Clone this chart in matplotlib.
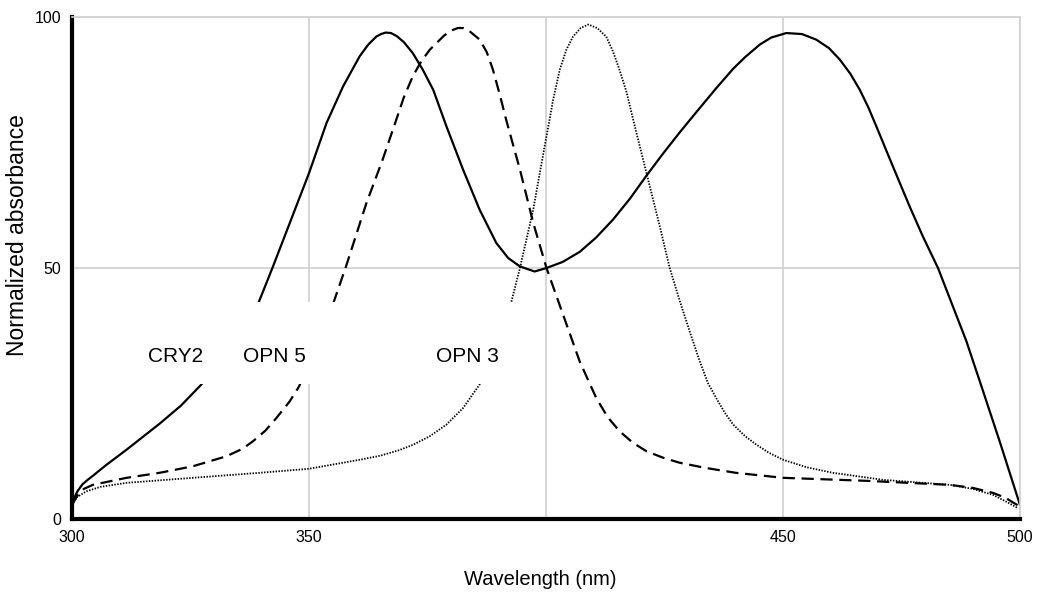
import numpy as np
import matplotlib
matplotlib.use("Agg")
import matplotlib.pyplot as plt
from matplotlib import font_manager
from matplotlib.patches import Rectangle

# -------------------------------------------------
# Font
# -------------------------------------------------

names = {f.name for f in font_manager.fontManager.ttflist}
if "Liberation Sans Narrow" in names:
    plt.rcParams['font.family'] = ['Liberation Sans Narrow', 'DejaVu Sans']
else:
    plt.rcParams['font.family'] = ['Liberation Sans', 'DejaVu Sans']

# -------------------------------------------------
# Daten
# -------------------------------------------------

cry2_x = [300, 300.5, 301.2, 302.2, 303.3, 304.4, 307, 311.5, 318.5, 323, 327.3,
          339.4, 342.4, 350, 353.7, 357.2, 360.7, 362.5, 364.2, 365.2, 366.2,
          367.3, 368.5, 370, 371.9, 374, 376.2, 379, 382.5, 386, 389.5, 392,
          394.5, 397.6, 400.1, 403.5, 407.1, 410.5, 414.1, 417.7, 421.2, 424.7,
          428.2, 431.5, 435.9, 439.5, 442, 445.1, 447.5, 450.7, 454, 457, 459.7,
          462, 464.2, 466.2, 468, 469.7, 473.2, 476.7, 479.5, 482.7, 485.7,
          488.7, 492.2, 495.7, 500]
cry2_y = [2.8, 4.3, 5.6, 6.9, 7.8, 8.6, 10.6, 13.8, 19.0, 22.6, 26.8,
          43.2, 50.3, 68.9, 78.9, 86.2, 92.2, 94.5, 96.1, 96.6, 96.9,
          96.8, 96.2, 95.0, 92.8, 89.5, 85.5, 78.2, 69.6, 61.6, 55.0, 52.0,
          50.3, 49.3, 50.0, 51.2, 53.2, 56.0, 59.6, 63.8, 68.4, 72.8,
          77.0, 80.8, 85.8, 89.7, 92.0, 94.5, 95.9, 96.8, 96.6, 95.5, 93.8,
          91.5, 88.7, 85.5, 82.0, 78.2, 70.2, 62.3, 56.3, 50.0, 42.7,
          35.4, 25.5, 15.5, 2.8]

opn5_x = [300, 301, 302.5, 304.4, 311.5, 318.5, 325.5, 332.6, 336, 338.2,
          340.8, 343.1, 345.9, 347.9, 355.2, 357.8, 362.1, 365.5, 368.4, 370,
          371.9, 373.7, 375.5, 378.5, 380, 381.4, 382.5, 383.7, 386, 387.5,
          388.8, 390.2, 391.6, 394.5, 397.3, 400.1, 403.6, 407.1, 410.6, 413,
          415.5, 418.3, 421.2, 424.7, 428.2, 433.5, 440, 450, 467.6, 485.2,
          490, 494.3, 497, 498.5, 500]
opn5_y = [2.8, 4.5, 6.0, 6.8, 8.2, 9.2, 10.5, 12.5, 14.0, 15.5,
          17.6, 20.1, 23.4, 26.4, 43.2, 50.3, 62.9, 71.5, 79.5, 84.0,
          88.2, 91.2, 93.5, 96.3, 97.3, 97.8, 97.8, 97.3, 95.5, 93.0,
          89.5, 84.7, 79.5, 69.6, 59.0, 50.0, 40.7, 31.4, 24.1, 20.3,
          17.5, 15.2, 13.5, 12.2, 11.2, 10.2, 9.2, 8.2, 7.6, 6.8,
          6.2, 5.2, 4.2, 3.3, 2.5]

opn3_x = [300, 301, 303, 306, 311.5, 325.5, 339.6, 350, 360.7, 365, 369,
          372, 375.5, 379, 382.5, 386, 392.7, 394.5, 397.3, 398.7, 400.1,
          401.5, 402.9, 404.3, 405.7, 407.3, 408.9, 410.8, 412.7, 414.1,
          415.5, 417, 418.4, 421.2, 424, 426.1, 428.2, 430.3, 432.4, 434.2,
          435.9, 437.7, 439.5, 442, 444.4, 447, 450, 455, 460.5, 471.1,
          485.2, 490, 494.3, 497, 499.5]
opn3_y = [2.8, 4.3, 5.5, 6.4, 7.2, 8.2, 9.2, 10.0, 11.8, 12.6, 13.7,
          14.8, 16.5, 18.8, 22.1, 26.8, 43.3, 50.0, 61.6, 69.0, 76.2,
          83.5, 89.5, 93.5, 96.1, 97.8, 98.5, 97.8, 96.1, 93.2,
          89.5, 85.0, 79.5, 68.9, 58.3, 50.0, 43.5, 37.4, 31.5, 27.0,
          24.1, 21.2, 18.8, 16.5, 14.8, 13.2, 11.8, 10.3, 9.2, 7.8,
          6.8, 6.0, 4.8, 3.5, 2.2]

labels = ["CRY2", "OPN 5", "OPN 3"]
label_x = [321.9, 342.8, 383.4]
label_y = [32.3, 32.3, 32.3]

x_ticks = [300, 350, 400, 450, 500]
x_ticklabels = ["300", "350", "", "450", "500"]
y_ticks = [0, 50, 100]

# -------------------------------------------------
# Plot
# -------------------------------------------------

fig = plt.figure(figsize=(10.47, 5.94), dpi=100)
ax = fig.add_axes([0.0688, 0.1263, 0.9054, 0.8451])

ax.plot(cry2_x, cry2_y, color='black', lw=1.6, solid_joinstyle='round')
ax.plot(opn5_x, opn5_y, color='black', lw=1.6, linestyle=(0, (5.5, 3)))
ax.plot(opn3_x, opn3_y, color='black', lw=1.3, linestyle=(0, (0.8, 0.8)))

# weisser Kasten hinter den Beschriftungen
ax.add_patch(Rectangle((314, 26.8), 80.0, 16.5, facecolor='white',
                       edgecolor='none', zorder=3))
for lab, lx, ly in zip(labels, label_x, label_y):
    ax.text(lx, ly, lab, ha='center', va='center', fontsize=15, zorder=4)

ax.set_xlim(300, 500)
ax.set_ylim(0, 100)
ax.set_xticks(x_ticks)
ax.set_xticklabels(x_ticklabels)
ax.set_yticks(y_ticks)
ax.tick_params(length=0, labelsize=11.5, pad=8)
ax.grid(True, color='#d0d0d0', lw=1.2)
ax.set_axisbelow(True)

for side in ['top', 'right']:
    ax.spines[side].set_color('#d0d0d0')
    ax.spines[side].set_linewidth(1.2)
for side in ['left', 'bottom']:
    ax.spines[side].set_color('black')
    ax.spines[side].set_linewidth(3)

fig.text(0.516, 0.024, "Wavelength (nm)", ha='center', va='center', fontsize=14.5)
fig.text(0.017, 0.605, "Normalized absorbance", ha='center', va='center',
         rotation=90, fontsize=16.5)

fig.savefig("out.png", dpi=100)
